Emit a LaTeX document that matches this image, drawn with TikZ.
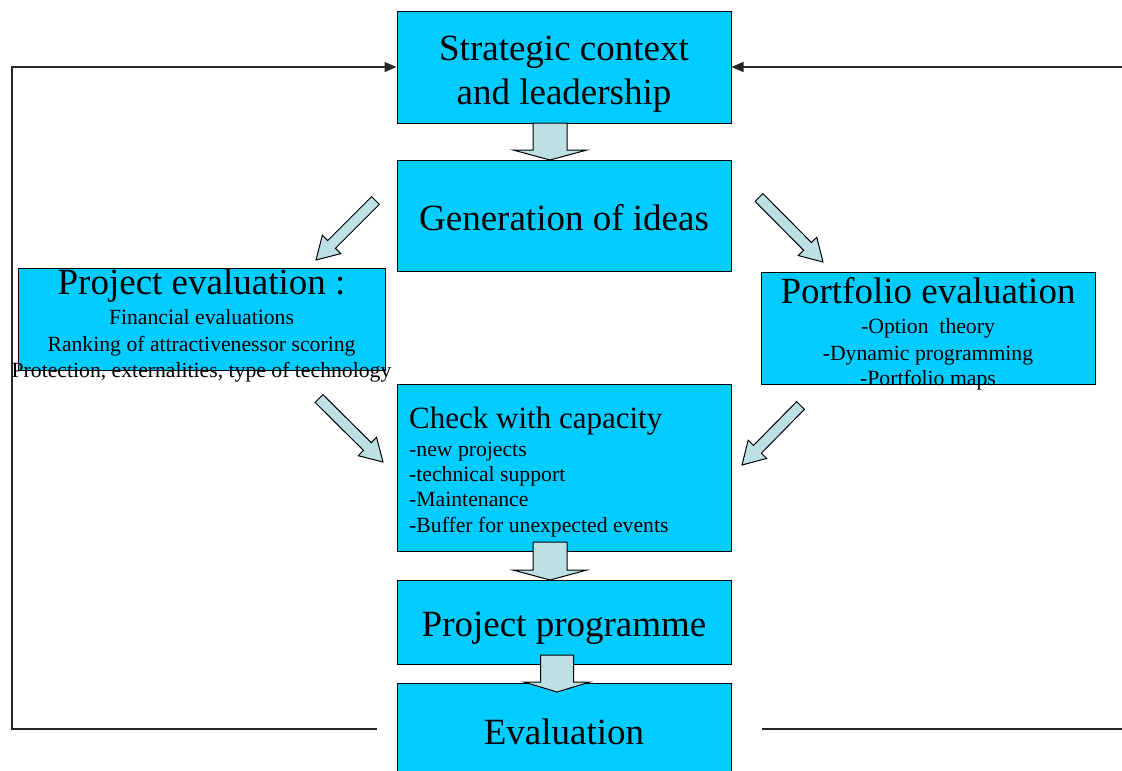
\documentclass[tikz,border=0pt]{standalone}
\usepackage{fontspec}
\setmainfont{Liberation Serif}
\usetikzlibrary{calc,arrows.meta}
\definecolor{boxcyan}{HTML}{00CCFF}
\definecolor{arrowfill}{HTML}{BDE0E4}
\tikzset{
  box/.style={draw=black, line width=1pt, fill=boxcyan, inner sep=0pt},
  barrow/.style={draw=black, line width=1pt, fill=arrowfill, line join=miter},
  feed/.style={draw=black!85, line width=1.4pt},
  big/.style={anchor=base, inner sep=0pt, font=\fontsize{37}{40}\selectfont},
  mid/.style={anchor=base west, inner sep=0pt, font=\fontsize{31}{34}\selectfont},
  small/.style={anchor=base, inner sep=0pt, font=\fontsize{21.7}{24}\selectfont},
  smallw/.style={anchor=base west, inner sep=0pt, font=\fontsize{21.7}{24}\selectfont},
}
\newcommand{\blockarr}[5]{%
  \coordinate (ba-s) at #1;
  \coordinate (ba-t) at #2;
  \coordinate (ba-h) at ($(ba-t)!#5!(ba-s)$);
  \draw[barrow] ($(ba-s)!#3!90:(ba-t)$) -- ($(ba-h)!#3!90:(ba-t)$)
     -- ($(ba-h)!#4!90:(ba-t)$) -- (ba-t) -- ($(ba-h)!#4!-90:(ba-t)$)
     -- ($(ba-h)!#3!-90:(ba-t)$) -- ($(ba-s)!#3!-90:(ba-t)$) -- cycle;}
\begin{document}
\begin{tikzpicture}[x=1pt,y=-1pt]
\useasboundingbox (0,0) rectangle (1122,771);
\clip (0,0) rectangle (1122,771);
% boxes
\node[box, minimum width=334pt, minimum height=112pt] (strat) at (564,67) {};
\node[box, minimum width=334pt, minimum height=111pt] (gen) at (564,215.5) {};
\node[box, minimum width=367pt, minimum height=102pt] (proj) at (201.5,319) {};
\node[box, minimum width=334pt, minimum height=112pt] (port) at (928,328) {};
\node[box, minimum width=334pt, minimum height=167pt] (check) at (564,467.5) {};
\node[box, minimum width=334pt, minimum height=84pt] (prog) at (564,622) {};
\node[box, minimum width=334pt, minimum height=107pt] (eval) at (564,736.5) {};
% feedback lines
\coordinate (fbL) at (377,729);
\coordinate (fbLc1) at (12,729);
\coordinate (fbLc2) at (12,67);
\coordinate (fbR) at (1122,67);
\coordinate (fbB1) at (762,729);
\coordinate (fbB2) at (1122,729);
\draw[feed, -{Triangle[length=12pt,width=10pt]}] (fbL) -- (fbLc1) -- (fbLc2) -- (strat.west);
\draw[feed, -{Triangle[length=12pt,width=10pt]}] (fbR) -- (strat.east);
\draw[feed] (fbB1) -- (fbB2);
% block arrows
\blockarr{(550,123)}{(550,160)}{17pt}{37pt}{10pt}
\blockarr{(550,542)}{(550,580)}{17pt}{37pt}{10pt}
\blockarr{(557,655)}{(557,692)}{16.5pt}{33pt}{10pt}
\blockarr{(375.5,200.5)}{(316,260)}{5.5pt}{13pt}{22pt}
\blockarr{(759,197.5)}{(823,262)}{5.5pt}{13pt}{22pt}
\blockarr{(319,398.5)}{(383,462)}{5.5pt}{13pt}{22pt}
\blockarr{(800.5,405.5)}{(742,465)}{5.5pt}{13pt}{22pt}
% texts
\node[big] (strat-a) at (564,60) {Strategic context};
\node[big] (strat-b) at (564,104) {and leadership};
\node[big] (gen-t) at (564,230) {Generation of ideas};
\node[big] (proj-t) at (201.5,294) {Project evaluation :};
\node[small] (proj-a) at (201.5,324) {Financial evaluations};
\node[small] (proj-b) at (201.5,351) {Ranking of attractivenessor scoring};
\node[small] (proj-c) at (201.5,377) {Protection, externalities, type of technology};
\node[big] (port-t) at (928,303) {Portfolio evaluation};
\node[small] (port-a) at (928,333) {-Option\ \ theory};
\node[small] (port-b) at (928,360) {-Dynamic programming};
\node[small] (port-c) at (928,385) {-Portfolio maps};
\node[mid] (check-t) at (409,428) {Check with capacity};
\node[smallw] (check-a) at (409,456) {-new projects};
\node[smallw] (check-b) at (409,481) {-technical support};
\node[smallw] (check-c) at (409,506) {-Maintenance};
\node[smallw] (check-d) at (409,532) {-Buffer for unexpected events};
\node[big] (prog-t) at (564,636) {Project programme};
\node[big] (eval-t) at (564,744) {Evaluation};
\end{tikzpicture}
\end{document}
